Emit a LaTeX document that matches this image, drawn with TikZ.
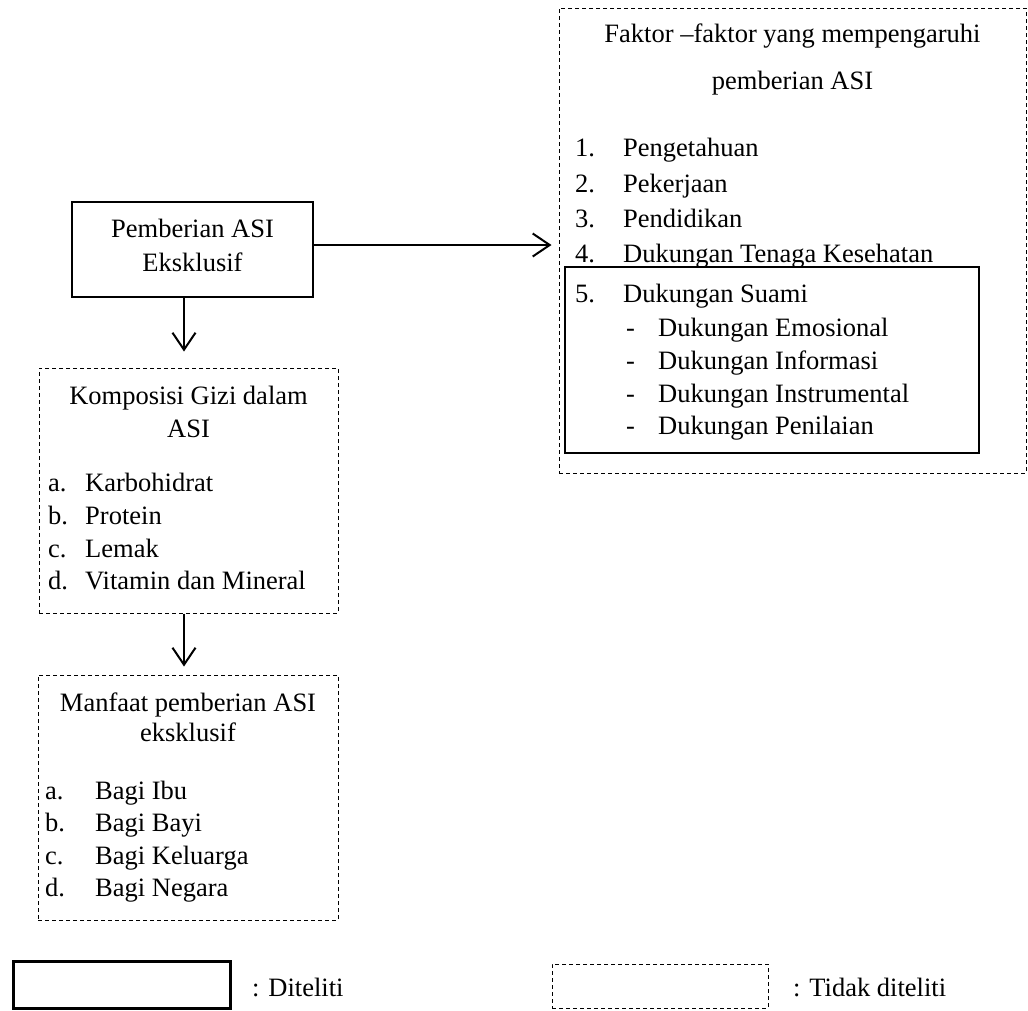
\documentclass[tikz,border=0pt]{standalone}
\usepackage{fontspec}
\setmainfont{Liberation Serif}
\usetikzlibrary{arrows.meta}
\begin{document}
\begin{tikzpicture}[x=1pt,y=-1pt,
  txt/.style={inner sep=0pt,font=\fontsize{26.5}{32}\selectfont},
  lt/.style={txt,anchor=base west},
  ct/.style={txt,anchor=base},
  solidbox/.style={draw,line width=2.4pt,inner sep=0pt},
  dashbox/.style={draw,line width=1pt,dash pattern=on 4pt off 3pt,inner sep=0pt},
  arr/.style={line width=2pt,-{Straight Barb[length=17pt,width=23pt,line width=2pt]}}]
\useasboundingbox (0,0) rectangle (1028,1010);
% boxes
\node[solidbox,minimum width=241,minimum height=95] (pem) at (192.5,249.5) {};
\node[dashbox,minimum width=299,minimum height=245] (komp) at (188.5,490.5) {};
\node[dashbox,minimum width=300,minimum height=245] (manf) at (188,797.5) {};
\node[dashbox,minimum width=467,minimum height=465] (fak) at (792.5,240.5) {};
\node[solidbox,minimum width=414,minimum height=186] (inner) at (772,360) {};
\node[solidbox,line width=3pt,minimum width=217,minimum height=47] (legs) at (121.5,984.5) {};
\node[dashbox,minimum width=216,minimum height=44] (legd) at (660,986) {};
% Pemberian text
\node[ct] (p1) at (192.5,237) {Pemberian ASI};
\node[ct] (p2) at (192.5,271) {Eksklusif};
% Faktor text
\node[ct] (f1) at (792.5,42) {Faktor –faktor yang mempengaruhi};
\node[ct] (f2) at (792.5,89) {pemberian ASI};
\node[lt] (fn1) at (575,156) {1.};
\node[lt] (fi1) at (623,156) {Pengetahuan};
\node[lt] (fn2) at (575,192) {2.};
\node[lt] (fi2) at (623,192) {Pekerjaan};
\node[lt] (fn3) at (575,227) {3.};
\node[lt] (fi3) at (623,227) {Pendidikan};
\node[lt] (fn4) at (575,262) {4.};
\node[lt] (fi4) at (623,262) {Dukungan Tenaga Kesehatan};
\node[lt] (fn5) at (575,302) {5.};
\node[lt] (fi5) at (623,302) {Dukungan Suami};
\node[lt] (fd1) at (626,336) {-};
\node[lt] (fs1) at (658,336) {Dukungan Emosional};
\node[lt] (fd2) at (626,369) {-};
\node[lt] (fs2) at (658,369) {Dukungan Informasi};
\node[lt] (fd3) at (626,402) {-};
\node[lt] (fs3) at (658,402) {Dukungan Instrumental};
\node[lt] (fd4) at (626,434) {-};
\node[lt] (fs4) at (658,434) {Dukungan Penilaian};
% Komposisi text
\node[ct] (k1) at (188.5,404) {Komposisi Gizi dalam};
\node[ct] (k2) at (188.5,437) {ASI};
\node[lt] (kn1) at (48,491) {a.};
\node[lt] (ki1) at (85,491) {Karbohidrat};
\node[lt] (kn2) at (48,524) {b.};
\node[lt] (ki2) at (85,524) {Protein};
\node[lt] (kn3) at (48,557) {c.};
\node[lt] (ki3) at (85,557) {Lemak};
\node[lt] (kn4) at (48,589) {d.};
\node[lt] (ki4) at (85,589) {Vitamin dan Mineral};
% Manfaat text
\node[ct] (m1) at (188,711) {Manfaat pemberian ASI};
\node[ct] (m2) at (188,741) {eksklusif};
\node[lt] (mn1) at (45,799) {a.};
\node[lt] (mi1) at (95,799) {Bagi Ibu};
\node[lt] (mn2) at (45,831) {b.};
\node[lt] (mi2) at (95,831) {Bagi Bayi};
\node[lt] (mn3) at (45,864) {c.};
\node[lt] (mi3) at (95,864) {Bagi Keluarga};
\node[lt] (mn4) at (45,896) {d.};
\node[lt] (mi4) at (95,896) {Bagi Negara};
% legend text
\node[lt] (l1) at (252,996) {: Diteliti};
\node[lt] (l2) at (793,996) {: Tidak diteliti};
% connectors
\coordinate (cx) at (184,0);
\coordinate (cy) at (0,245);
\draw[arr] (pem.east |- cy) -- ([xshift=-7pt]fak.west |- cy);
\draw[arr] (pem.south -| cx) -- ([yshift=16pt]komp.north -| cx);
\draw[arr] (komp.south -| cx) -- ([yshift=8pt]manf.north -| cx);
\end{tikzpicture}
\end{document}
